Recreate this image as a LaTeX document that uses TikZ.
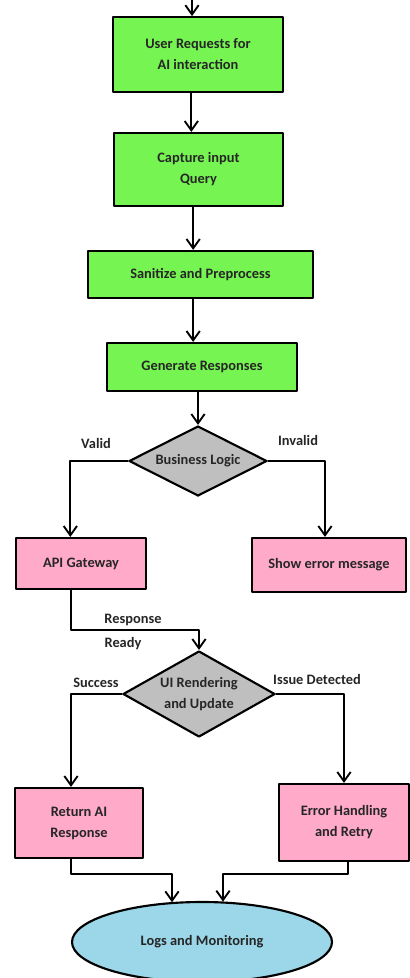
\documentclass[tikz,border=0pt]{standalone}
\usepackage{fontspec}
\setmainfont{Carlito}
\usetikzlibrary{shapes.geometric,arrows.meta}

\begin{document}
\begin{tikzpicture}[x=0.75pt, y=-0.75pt, line cap=round, line join=round,
    font=\bfseries\fontsize{10.8}{15.75}\selectfont,
    box/.style={draw=black, line width=1.6pt, align=center, text=black!85, inner sep=2pt},
    greenbox/.style={box, fill=green!60!lime!80!white},
    pinkbox/.style={box, fill=pink!70!magenta!40!white},
    decision/.style={box, shape=diamond, fill=gray!50, inner sep=0pt},
    logs/.style={box, shape=ellipse, fill=cyan!40!blue!10!white, inner sep=0pt},
    arr/.style={draw, line width=1.4pt, -{Straight Barb[length=7pt, width=10pt, line width=1.4pt]}},
    lbl/.style={text=black!85}]

  % --- MARGINI ---
  \useasboundingbox (0,0) rectangle (410,978);

  \definecolor{boxgreen}{RGB}{118,245,82}
  \definecolor{boxpink}{RGB}{255,170,200}
  \definecolor{boxblue}{RGB}{155,215,232}

  % --- BLOCURI PRINCIPALE ---
  \node[greenbox, fill=boxgreen, minimum width=127.5pt, minimum height=56pt] (req) at (198,54.5) {User Requests for\\AI interaction};
  \node[greenbox, fill=boxgreen, minimum width=126.75pt, minimum height=54.75pt] (cap) at (198.5,169.5) {Capture input\\Query};
  \node[greenbox, fill=boxgreen, minimum width=168.75pt, minimum height=35.25pt] (san) at (200.5,274.5) {Sanitize and Preprocess};
  \node[greenbox, fill=boxgreen, minimum width=142.5pt, minimum height=36pt] (gen) at (202,367) {Generate Responses};

  % --- DECIZIA 1 ---
  \node[decision, aspect=2.6, minimum width=103.5pt, minimum height=52.5pt] (biz) at (198,461) {Business Logic};
  \node[pinkbox, fill=boxpink, minimum width=97.5pt, minimum height=38.25pt] (api) at (81,563.5) {API Gateway};
  \node[pinkbox, fill=boxpink, minimum width=115.5pt, minimum height=40.5pt] (err) at (329,565) {Show error message};

  % --- DECIZIA 2 ---
  \node[decision, aspect=1.9, minimum width=114pt, minimum height=64.5pt] (ui) at (199,694) {UI Rendering\\and Update};
  \node[pinkbox, fill=boxpink, minimum width=96pt, minimum height=52.5pt] (ret) at (79,823) {Return AI\\Response};
  \node[pinkbox, fill=boxpink, minimum width=97.5pt, minimum height=57.75pt] (retry) at (344,822.5) {Error Handling\\and Retry};

  % --- ELIPSA FINALA ---
  \node[logs, fill=boxblue, minimum width=195pt, minimum height=60pt] (mon) at (202,942) {Logs and Monitoring};

  % --- SAGETI ---
  \coordinate (start) at (192,0);
  \draw[arr] (start) -- (start |- req.north);
  \draw[arr] ([xshift=-5pt]req.south) -- ([xshift=-5pt]req.south |- cap.north);
  \draw[arr] ([xshift=-4pt]cap.south) -- ([xshift=-4pt]cap.south |- san.north);
  \draw[arr] ([xshift=-5.5pt]san.south) -- ([xshift=-5.5pt]san.south |- gen.north);
  \draw[arr] (biz.north |- gen.south) -- (biz.north);

  \draw[arr] (biz.west) -| ([xshift=-8pt]api.north);
  \draw[arr] (biz.east) -| ([xshift=-3pt]err.north);
  \draw[arr] ([xshift=-7.5pt]api.south) -- ++(0,40) -| (ui.north);

  \draw[arr] (ui.west) -| ([xshift=-6pt]ret.north);
  \draw[arr] (ui.east) -| (retry.north);

  \draw[arr] ([xshift=-6pt]ret.south) -- ++(0,15) -| ([xshift=-22.5pt, yshift=-1pt]mon.north);
  \draw[arr] ([xshift=3pt]retry.south) -- ++(0,12) -| ([xshift=15.75pt, yshift=-0.5pt]mon.north);

  % --- ETICHETE ---
  \node[lbl] (lvalid) at (96,443) {Valid};
  \node[lbl] (linvalid) at (298,440) {Invalid};
  \node[lbl] (lresp) at (133,620) {Response};
  \node[lbl] (lready) at (123,644) {Ready};
  \node[lbl] (lsucc) at (96,683) {Success};
  \node[lbl] (lissue) at (317,679) {Issue Detected};

\end{tikzpicture}
\end{document}
